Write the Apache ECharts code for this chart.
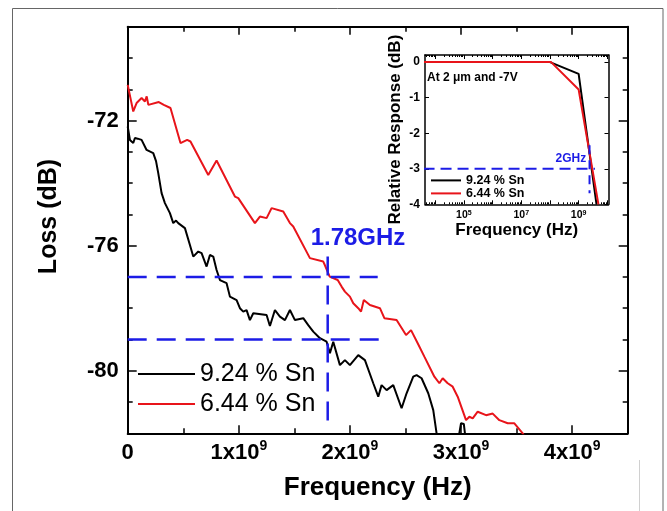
<!DOCTYPE html>
<html><head><meta charset="utf-8">
<script src="https://cdn.jsdelivr.net/npm/echarts@6/dist/echarts.min.js"></script>
<style>html,body{margin:0;padding:0;background:#fff}#c{width:667px;height:511px}</style>
</head><body><div id="c"></div>
<script>
const FONT = '"Liberation Sans", Arial, Helvetica, sans-serif';
const BLUE = '#1c1ce6';
const RED = '#e8141a';

// ---- main plot data (frequency in GHz, loss in dB) ----
const sn924FreqGHz = [0.00,0.02,0.05,0.065,0.09,0.125,0.17,0.23,0.255,0.275,0.305,0.335,0.38,0.41,0.435,0.455,0.515,0.56,0.59,0.635,0.665,0.71,0.74,0.77,0.80,0.83,0.89,0.92,0.98,1.01,1.04,1.07,1.10,1.13,1.25,1.28,1.325,1.37,1.415,1.46,1.505,1.58,1.625,1.67,1.73,1.79,1.82,1.85,1.91,1.955,2.00,2.075,2.135,2.21,2.255,2.285,2.33,2.39,2.465,2.51,2.57,2.60,2.645,2.705,2.75,2.78,2.80,2.88,2.97,3.00,3.025,3.045];
const sn924Loss    = [-72.19,-72.62,-72.72,-72.56,-72.58,-72.62,-72.94,-73.04,-73.30,-73.68,-74.32,-74.64,-74.96,-75.28,-75.20,-75.28,-75.44,-75.98,-76.35,-76.19,-76.24,-76.67,-76.30,-76.35,-76.78,-77.10,-77.20,-77.63,-77.74,-78.00,-78.11,-78.06,-78.38,-78.16,-78.22,-78.57,-78.06,-78.27,-78.38,-78.06,-78.38,-78.32,-78.54,-78.75,-78.96,-79.07,-79.44,-79.07,-79.82,-79.66,-79.82,-79.50,-79.66,-80.40,-80.83,-80.46,-80.62,-80.46,-81.20,-80.72,-80.19,-80.14,-80.24,-80.72,-81.26,-82.00,-82.40,-82.80,-82.30,-81.68,-81.70,-82.30];

const sn644FreqGHz = [0.00,0.05,0.08,0.125,0.155,0.171,0.186,0.28,0.325,0.385,0.475,0.535,0.565,0.725,0.80,0.965,0.995,1.145,1.19,1.25,1.295,1.40,1.46,1.49,1.64,1.76,1.774,1.818,1.89,1.925,1.955,2.00,2.03,2.075,2.10,2.125,2.18,2.27,2.31,2.42,2.505,2.55,2.61,2.67,2.76,2.805,2.835,2.88,2.925,2.97,3.045,3.075,3.105,3.15,3.225,3.285,3.345,3.42,3.48,3.555,3.60];
const sn644Loss    = [-70.86,-71.71,-71.44,-71.28,-71.39,-71.23,-71.50,-71.41,-71.50,-71.60,-72.72,-72.62,-72.67,-73.74,-73.28,-74.43,-74.48,-75.28,-75.07,-75.12,-74.80,-74.91,-75.28,-75.39,-76.40,-76.51,-76.62,-76.99,-77.10,-77.31,-77.47,-77.63,-77.84,-78.00,-78.11,-77.74,-77.90,-78.00,-78.32,-78.38,-78.86,-78.70,-79.12,-79.55,-80.19,-80.40,-80.24,-80.40,-80.51,-80.83,-81.58,-81.47,-81.52,-81.31,-81.42,-81.37,-81.58,-81.68,-81.68,-82.00,-82.30];

// guide lines (blue dashed)
const guideLossLevels = [-77, -79];
const guideLossEndGHz = [2.25, 2.28];
const guideFreqGHz = 1.8;
const guideFreqLossSpan = [-76.35, -81.67];

// axis ticks / labels
const mainXLabelGHz = [0, 1, 2, 3, 4];
const mainXMajorGHz = [1, 2, 3, 4];
const mainYLabels = [-80, -76, -72];

// ---- inset data (frequency in Hz, relative response in dB) ----
const inset924Freq = [1e3, 1e8, 1e9, 4.2e9];
const inset924Resp = [0, 0, -0.33, -4];
const inset644Freq = [1e3, 1.1e8, 1e9, 4.9e9];
const inset644Resp = [0, 0, -0.77, -4];
const insetGuideResp = -3;
const insetGuideEndHz = 3.7e9;
const insetGuideFreqHz = 2.4e9;
const insetGuideRespSpan = [-2.34, -3.69];
const insetXLabels = [1e5, 1e7, 1e9];
const insetXDecades = [1e4, 1e5, 1e6, 1e7, 1e8, 1e9, 1e10];
const insetXMinor = [];
[3,4,5,6,7,8,9].forEach(e => { for (let k = 2; k <= 9; k++) insetXMinor.push(k * Math.pow(10, e)); });

const GHZ = 1e9;
const zip = (xs, ys, k) => xs.map((x, i) => [x * (k || 1), ys[i]]);
const hiddenLine = { show: false, onZero: false };

function valX(extra) {
  return Object.assign({
    type: 'value', gridIndex: 0, min: 0, max: 4.5 * GHZ, interval: 0.5 * GHZ, offset: 0,
    splitLine: { show: false }, axisLine: { show: true, onZero: false, lineStyle: { color: '#000', width: 2 } },
    axisTick: { show: true, inside: true, length: 5, lineStyle: { color: '#000', width: 1.5 } },
    axisLabel: { show: false }
  }, extra);
}
function valY(extra) {
  return Object.assign({
    type: 'value', gridIndex: 0, min: -82, max: -69, interval: 1, offset: 0,
    splitLine: { show: false }, axisLine: { show: true, onZero: false, lineStyle: { color: '#000', width: 2 } },
    axisTick: { show: true, inside: true, length: 5, lineStyle: { color: '#000', width: 1.5 } },
    axisLabel: { show: false }
  }, extra);
}
function logX(extra) {
  return Object.assign({
    type: 'log', gridIndex: 1, min: 4.4e3, max: 1.1e10, logBase: 10, offset: 0,
    splitLine: { show: false }, axisLine: { show: true, onZero: false, lineStyle: { color: '#000', width: 1.5 } },
    axisTick: { show: true, inside: true, length: 4, customValues: insetXDecades, lineStyle: { color: '#000', width: 1 } },
    axisLabel: { show: false }
  }, extra);
}
function insetY(extra) {
  return Object.assign({
    type: 'value', gridIndex: 1, min: -4, max: 0.2, interval: 1, offset: 0,
    splitLine: { show: false }, axisLine: { show: true, onZero: false, lineStyle: { color: '#000', width: 1.5 } },
    axisTick: { show: true, inside: true, length: 4, lineStyle: { color: '#000', width: 1 } },
    axisLabel: { show: false }
  }, extra);
}

const option = {
  backgroundColor: '#fff',
  animation: false,
  textStyle: { fontFamily: FONT },
  grid: [
    { left: 127.7, right: 39.3, top: 26.7, bottom: 77.7, outerBoundsMode: 'none', containLabel: false },
    { left: 425, right: 58.5, top: 55, bottom: 306.7, outerBoundsMode: 'none', containLabel: false, show: true, backgroundColor: '#fff', borderWidth: 0 }
  ],
  xAxis: [
    valX({
      position: 'bottom', name: 'Frequency (Hz)', nameLocation: 'middle', nameGap: 42,
      nameTextStyle: { fontFamily: FONT, fontSize: 26, fontWeight: 'bold', color: '#000' },
      axisLabel: {
        show: true, margin: 6, color: '#000',
        formatter: v => {
          const g = v / GHZ;
          if (!mainXLabelGHz.includes(g)) return '';
          return g === 0 ? '{a|0}' : '{a|' + g + 'x10}{s|9}';
        },
        rich: {
          a: { fontFamily: FONT, fontSize: 22, fontWeight: 'bold', lineHeight: 27, color: '#000' },
          s: { fontFamily: FONT, fontSize: 14, fontWeight: 'bold', verticalAlign: 'top', color: '#000' }
        }
      }
    }),
    valX({ position: 'bottom', axisLine: hiddenLine,
      axisTick: { show: true, inside: true, length: 8, customValues: mainXMajorGHz.map(g => g * GHZ), lineStyle: { color: '#000', width: 1.5 } } }),
    valX({ position: 'top' }),
    valX({ position: 'top', axisLine: hiddenLine,
      axisTick: { show: true, inside: true, length: 8, customValues: mainXMajorGHz.map(g => g * GHZ), lineStyle: { color: '#000', width: 1.5 } } }),
    logX({
      position: 'bottom', name: 'Frequency (Hz)', nameLocation: 'middle', nameGap: 2,
      nameTextStyle: { fontFamily: FONT, fontSize: 17, fontWeight: 'bold', color: '#000' },
      axisLabel: {
        show: true, margin: 5, customValues: insetXLabels,
        formatter: v => '{a|10}{s|' + Math.round(Math.log10(v)) + '}',
        rich: {
          a: { fontFamily: FONT, fontSize: 10.5, fontWeight: 'bold', lineHeight: 12, color: '#000' },
          s: { fontFamily: FONT, fontSize: 7, fontWeight: 'bold', verticalAlign: 'top', color: '#000' }
        }
      }
    }),
    logX({ position: 'bottom', axisLine: hiddenLine,
      axisTick: { show: true, inside: true, length: 2, customValues: insetXMinor, lineStyle: { color: '#000', width: 1 } } }),
    logX({ position: 'top' }),
    logX({ position: 'top', axisLine: hiddenLine,
      axisTick: { show: true, inside: true, length: 2, customValues: insetXMinor, lineStyle: { color: '#000', width: 1 } } })
  ],
  yAxis: [
    valY({
      position: 'left', name: 'Loss (dB)', nameLocation: 'middle', nameGap: 66,
      nameTextStyle: { fontFamily: FONT, fontSize: 25, fontWeight: 'bold', color: '#000', padding: [0, 0, 0, 27] },
      axisLabel: { show: true, margin: 9, color: '#000', fontFamily: FONT, fontSize: 22, fontWeight: 'bold',
        formatter: v => mainYLabels.includes(v) ? String(v) : '' }
    }),
    valY({ position: 'left', axisLine: hiddenLine,
      axisTick: { show: true, inside: true, length: 9, customValues: mainYLabels, lineStyle: { color: '#000', width: 1.5 } } }),
    valY({ position: 'right' }),
    valY({ position: 'right', axisLine: hiddenLine,
      axisTick: { show: true, inside: true, length: 9, customValues: mainYLabels, lineStyle: { color: '#000', width: 1.5 } } }),
    insetY({
      position: 'left', name: 'Relative Response (dB)', nameLocation: 'middle', nameGap: 21.5,
      nameTextStyle: { fontFamily: FONT, fontSize: 17, fontWeight: 'bold', color: '#000' },
      axisLabel: { show: true, margin: 5, color: '#000', fontFamily: FONT, fontSize: 12, fontWeight: 'bold',
        formatter: v => Number.isInteger(v) ? String(v) : '' }
    }),
    insetY({ position: 'right' })
  ],
  legend: [
    {
      left: 138, top: 361.5, orient: 'vertical', padding: 0, itemGap: 5, itemWidth: 57, itemHeight: 2,
      icon: 'rect', selectedMode: false, data: ['9.24 % Sn', '6.44 % Sn'],
      textStyle: { fontFamily: FONT, fontSize: 25, lineHeight: 25, color: '#000' }
    },
    {
      left: 431, top: 173.9, orient: 'vertical', padding: 0, itemGap: 0, itemWidth: 30, itemHeight: 2,
      icon: 'rect', selectedMode: false, data: ['9.24 % Sn', '6.44 % Sn'],
      textStyle: { fontFamily: FONT, fontSize: 12.5, fontWeight: 'bold', lineHeight: 12.3, color: '#000' }
    }
  ],
  series: [
    { name: '9.24 % Sn', type: 'line', xAxisIndex: 0, yAxisIndex: 0, data: zip(sn924FreqGHz, sn924Loss, GHZ),
      symbol: 'none', clip: true, lineStyle: { color: '#000', width: 2 }, itemStyle: { color: '#000' }, z: 3 },
    { name: '6.44 % Sn', type: 'line', xAxisIndex: 0, yAxisIndex: 0, data: zip(sn644FreqGHz, sn644Loss, GHZ),
      symbol: 'none', clip: true, lineStyle: { color: RED, width: 2 }, itemStyle: { color: RED }, z: 3 },
    ...guideLossLevels.map((lv, i) => ({
      type: 'line', xAxisIndex: 0, yAxisIndex: 0, symbol: 'none', silent: true, z: 4,
      data: [[0, lv], [guideLossEndGHz[i] * GHZ, lv]],
      lineStyle: { color: BLUE, width: 2.5, type: [19, 10] }
    })),
    { type: 'line', xAxisIndex: 0, yAxisIndex: 0, symbol: 'none', silent: true, z: 4,
      data: guideFreqLossSpan.map(v => [guideFreqGHz * GHZ, v]),
      lineStyle: { color: BLUE, width: 2.5, type: [19, 10] } },
    { name: '9.24 % Sn', type: 'line', xAxisIndex: 4, yAxisIndex: 4, data: zip(inset924Freq, inset924Resp),
      symbol: 'none', clip: true, lineStyle: { color: '#000', width: 2 }, itemStyle: { color: '#000' }, z: 5 },
    { name: '6.44 % Sn', type: 'line', xAxisIndex: 4, yAxisIndex: 4, data: zip(inset644Freq, inset644Resp),
      symbol: 'none', clip: true, lineStyle: { color: RED, width: 2 }, itemStyle: { color: RED }, z: 5 },
    { type: 'line', xAxisIndex: 4, yAxisIndex: 4, symbol: 'none', silent: true, z: 6, clip: true,
      data: [[1e3, insetGuideResp], [insetGuideEndHz, insetGuideResp]],
      lineStyle: { color: BLUE, width: 2, type: [11, 6] } },
    { type: 'line', xAxisIndex: 4, yAxisIndex: 4, symbol: 'none', silent: true, z: 6,
      data: insetGuideRespSpan.map(v => [insetGuideFreqHz, v]),
      lineStyle: { color: BLUE, width: 2, type: [9, 6] } }
  ],
  graphic: [
    { type: 'rect', silent: true, shape: { x: 12.5, y: 8.5, width: 650.5, height: 530 },
      style: { fill: 'none', stroke: '#666', lineWidth: 1 }, z: -1 },
    { type: 'line', silent: true, shape: { x1: 639.5, y1: 460, x2: 639.5, y2: 511 },
      style: { stroke: '#d0d0d0', lineWidth: 1 } },
    { type: 'text', silent: true, x: 358, y: 238.5, z: 10,
      style: { text: '1.78GHz', fill: BLUE, font: 'bold 24px ' + FONT, align: 'center', verticalAlign: 'middle' } },
    { type: 'text', silent: true, x: 570.8, y: 159, z: 10,
      style: { text: '2GHz', fill: BLUE, font: 'bold 12px ' + FONT, align: 'center', verticalAlign: 'middle' } },
    { type: 'text', silent: true, x: 427, y: 77.5, z: 10,
      style: { text: 'At 2 \u03bcm and -7V', fill: '#000', font: 'bold 12px ' + FONT, align: 'left', verticalAlign: 'middle' } }
  ]
};

const chart = echarts.init(document.getElementById('c'), null, { renderer: 'canvas' });
chart.setOption(option);
</script>
</body></html>
